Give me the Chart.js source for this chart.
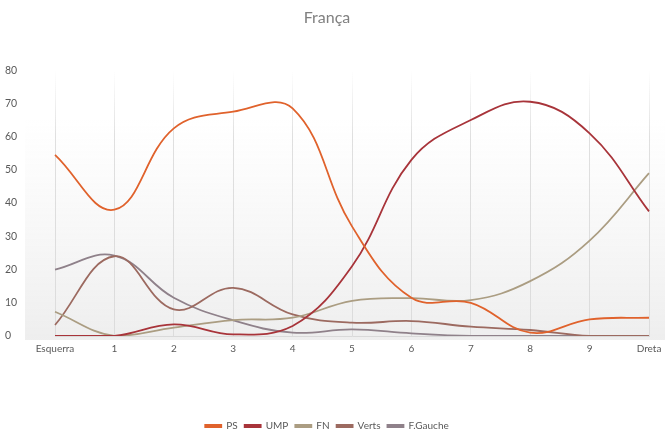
<!DOCTYPE html>
<html>
<head>
<meta charset="utf-8">
<script src="https://cdn.jsdelivr.net/npm/chart.js@4/dist/chart.umd.min.js"></script>
<style>
  html, body { margin: 0; padding: 0; background: #ffffff; }
  #wrap { width: 670px; height: 432px; }
</style>
</head>
<body>
<div id="wrap"><canvas id="c" width="670" height="432"></canvas></div>
<script>
// Positions on the left-right scale
const categories = ['Esquerra', '1', '2', '3', '4', '5', '6', '7', '8', '9', 'Dreta'];

// Share of each party's voters at every position (%)
const ps      = [54.5, 38, 62.5, 67.5, 68.5, 33, 11.5, 10, 1, 5, 5.5];
const ump     = [0, 0, 3.5, 0.5, 3, 21, 53, 65, 70.5, 61, 37.5];
const fn      = [7.3, 0, 2.5, 4.8, 5.5, 10.6, 11.4, 10.8, 16.5, 28.7, 49];
const verts   = [3.3, 24, 8, 14.5, 6.5, 4, 4.5, 2.8, 1.8, 0, 0];
const fgauche = [20, 24.2, 11.5, 4.7, 1, 2, 0.8, 0, 0, 0, 0];

const seriesNames = ['PS', 'UMP', 'FN', 'Verts', 'F.Gauche'];
const yTicks = [0, 10, 20, 30, 40, 50, 60, 70, 80];

const colors = ['#e0622c', '#a8343a', '#ab9d82', '#9c6a60', '#8f818a'];
const values = [ps, ump, fn, verts, fgauche];

const FONT = 'Lato, "Open Sans", sans-serif';

// Soft grey wash behind the plot
const backdrop = {
  id: 'backdrop',
  beforeDraw(chart) {
    const { ctx } = chart;
    const g = ctx.createLinearGradient(0, 120, 0, 340);
    g.addColorStop(0, 'rgba(242,242,242,0)');
    g.addColorStop(1, 'rgba(238,238,238,1)');
    ctx.save();
    ctx.fillStyle = g;
    ctx.fillRect(25, 120, 640, 220);
    ctx.restore();
  }
};

new Chart(document.getElementById('c'), {
  type: 'line',
  data: {
    labels: categories,
    datasets: values.map((v, i) => ({
      label: seriesNames[i],
      data: v,
      borderColor: colors[i],
      backgroundColor: colors[i],
      borderWidth: 1.8,
      pointRadius: 0,
      pointHoverRadius: 0,
      tension: 0.4,
      fill: false
    }))
  },
  options: {
    responsive: false,
    animation: false,
    layout: { padding: { left: 5, right: 21, top: 0, bottom: -9 } },
    plugins: {
      title: {
        display: true,
        text: 'França',
        color: '#808080',
        font: { family: FONT, size: 16, weight: 'normal' },
        padding: { top: 8, bottom: 43 }
      },
      legend: {
        position: 'bottom',
        labels: {
          color: '#595959',
          font: { family: FONT, size: 10 },
          boxWidth: 16,
          boxHeight: 2,
          padding: 7
        }
      },
      tooltip: { enabled: false }
    },
    scales: {
      x: {
        offset: false,
        grid: {
          drawTicks: false,
          color: (ctx) => {
            const g = ctx.chart.ctx.createLinearGradient(0, 70, 0, 335);
            g.addColorStop(0, 'rgba(220,220,220,0)');
            g.addColorStop(0.25, 'rgba(220,220,220,0.9)');
            g.addColorStop(1, 'rgba(220,220,220,1)');
            return g;
          },
          lineWidth: 1
        },
        border: { display: true, color: '#d9d9d9' },
        ticks: {
          color: '#595959',
          font: { family: FONT, size: 10 },
          padding: 7,
          maxRotation: 0,
          autoSkip: false
        },
        afterFit: (s) => { s.height = 78; }
      },
      y: {
        min: 0,
        max: 80,
        afterBuildTicks: (s) => { s.ticks = yTicks.map(v => ({ value: v })); },
        grid: { display: false, drawTicks: false },
        border: { display: false },
        ticks: {
          color: '#595959',
          font: { family: FONT, size: 10.5 },
          crossAlign: 'far',
          padding: 4
        },
        afterFit: (s) => { s.width = 50; }
      }
    }
  },
  plugins: [backdrop]
});
</script>
</body>
</html>
